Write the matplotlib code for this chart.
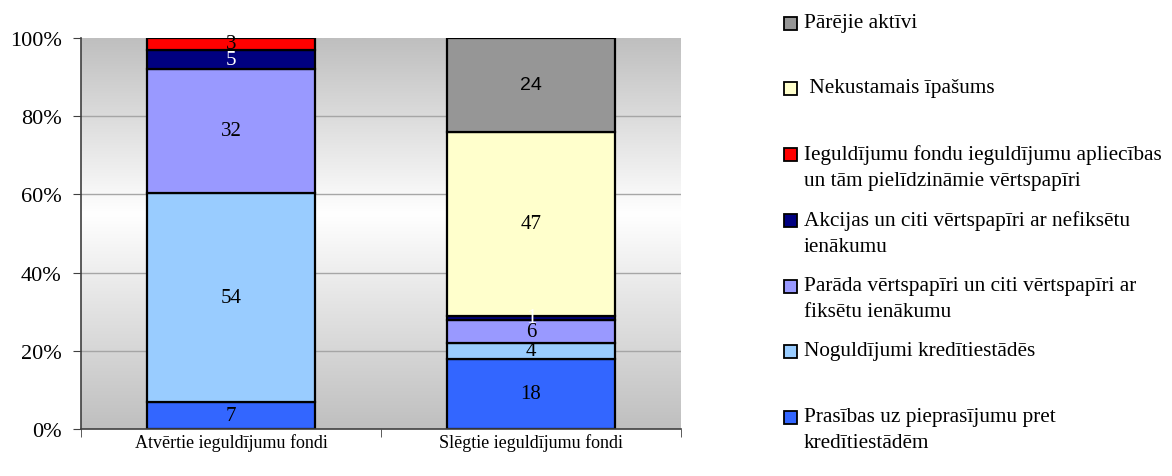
import numpy as np
import matplotlib
matplotlib.use("Agg")
import matplotlib.pyplot as plt
from matplotlib.colors import LinearSegmentedColormap
from matplotlib.patches import Rectangle

plt.rcParams['font.family'] = ['Liberation Serif', 'DejaVu Serif']

# data
funds = ['Atvērtie ieguldījumu fondi', 'Slēgtie ieguldījumu fondi']
series = [
    'Prasības uz pieprasījumu pret\nkredītiestādēm',
    'Noguldījumi kredītiestādēs',
    'Parāda vērtspapīri un citi vērtspapīri ar\nfiksētu ienākumu',
    'Akcijas un citi vērtspapīri ar nefiksētu\nienākumu',
    'Ieguldījumu fondu ieguldījumu apliecības\nun tām pielīdzināmie vērtspapīri',
    ' Nekustamais īpašums',
    'Pārējie aktīvi',
]
prasibas = [7, 18]
noguldijumi = [54, 4]
parada = [32, 6]
akcijas = [5, 1]
ieg_fondu = [3, 0]
nekustamais = [0, 47]
parejie = [0, 24]
values = [prasibas, noguldijumi, parada, akcijas, ieg_fondu, nekustamais, parejie]

colors = ['#3366ff', '#99ccff', '#9999ff', '#000080', '#ff0000', '#ffffcc', '#969696']
label_colors = ['black', 'black', 'black', 'white', 'black', 'black', 'black']

fig = plt.figure(figsize=(11.72, 4.77), dpi=100)
ax = fig.add_axes([81/1172, 1 - 430/477, 600/1172, 391/477])

# gradient background of plot area
cmap = LinearSegmentedColormap.from_list('bg', [(0, '#bfbfbf'), (0.55, '#ffffff'), (1, '#bfbfbf')])
grad = np.linspace(0, 1, 256).reshape(-1, 1)
ax.imshow(grad, aspect='auto', cmap=cmap, extent=[-0.5, 1.5, 0, 100],
          origin='lower', zorder=0)

ax.set_xlim(-0.5, 1.5)
ax.set_ylim(0, 100)

for y in [20, 40, 60, 80]:
    ax.axhline(y, color='#a6a6a6', lw=1, zorder=1)

data = np.array(values, dtype=float)
totals = data.sum(axis=0)
pct = data / totals * 100
x = np.arange(len(funds))
width = 0.557
bottom = np.zeros(len(funds))
for i in range(len(series)):
    for j in range(len(funds)):
        if data[i, j] == 0:
            continue
        ax.bar(x[j], pct[i, j], width, bottom=bottom[j], color=colors[i],
               edgecolor='black', linewidth=1.6, zorder=2)
        yc = bottom[j] + pct[i, j] / 2
        fam = ['Liberation Sans'] if (i == 6) else ['Liberation Serif']
        fs = 14 if i == 6 else 15
        ax.text(x[j], yc, str(int(data[i, j])), ha='center', va='center',
                fontsize=fs, color=label_colors[i], family=fam, zorder=3)
    bottom += pct[i]

ax.set_yticks([0, 20, 40, 60, 80, 100])
ax.set_yticklabels(['0%', '20%', '40%', '60%', '80%', '100%'], fontsize=16)
ax.set_xticks(x)
ax.set_xticklabels(funds, fontsize=13)
ax.set_xticks([-0.5, 0.5, 1.5], minor=True)
ax.tick_params(axis='x', which='major', length=0, pad=3)
ax.tick_params(axis='x', which='minor', length=6, color='#404040', direction='out')
ax.tick_params(axis='y', length=6, color='#404040', direction='out', pad=8)
for s in ['top', 'right']:
    ax.spines[s].set_visible(False)
for s in ['left', 'bottom']:
    ax.spines[s].set_color('#404040')
    ax.spines[s].set_linewidth(1.2)

# legend, drawn by hand to keep the uneven spacing
leg_y = [418, 352, 287, 221, 155, 89, 24]
for i in range(len(series)):
    yy = 1 - leg_y[i] / 477
    fig.patches.append(Rectangle((784/1172, yy - 7/477), 13/1172, 13/477,
                                 transform=fig.transFigure, facecolor=colors[i],
                                 edgecolor='black', linewidth=1.3))
    fig.text(804/1172, yy + 10/477, series[i], fontsize=15.3, va='top', ha='left',
             linespacing=1.5)

fig.savefig('out.png', dpi=100)
